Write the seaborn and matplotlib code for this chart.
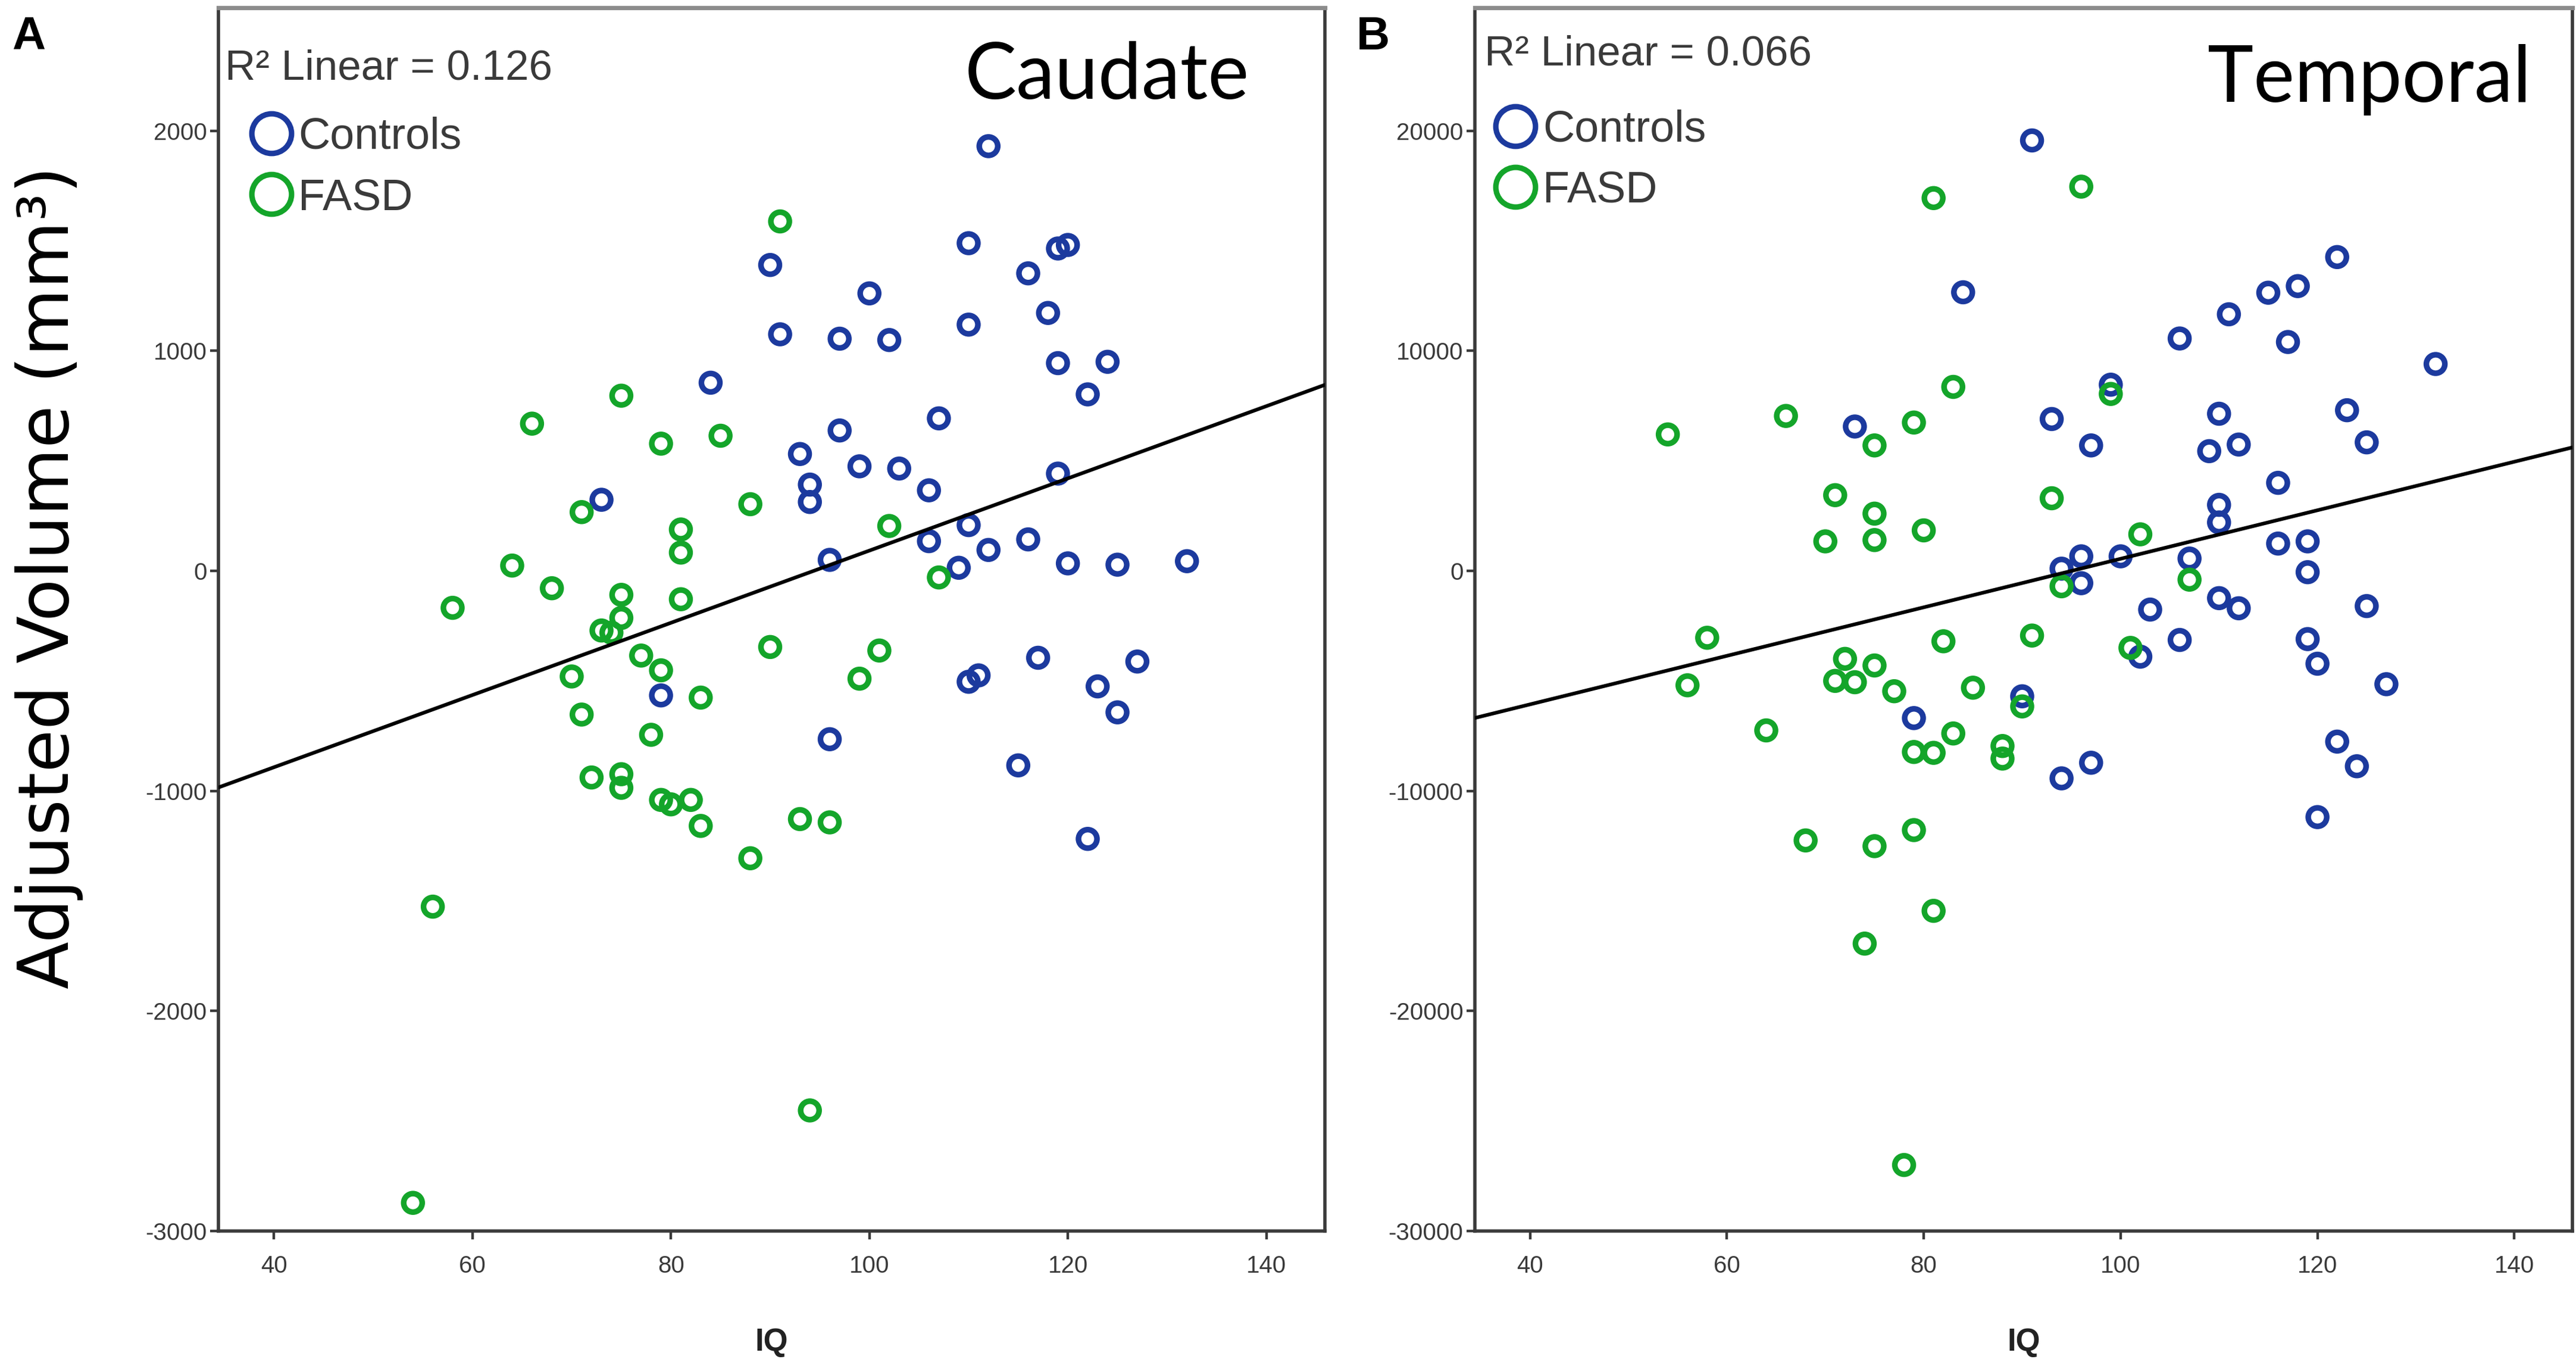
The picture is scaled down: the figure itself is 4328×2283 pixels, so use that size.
import numpy as np
import pandas as pd
import matplotlib
matplotlib.use("Agg")
import matplotlib.pyplot as plt
import seaborn as sns
from matplotlib.lines import Line2D

# ---------------- data ----------------
panel_names = ["Caudate", "Temporal"]
panel_letters = ["A", "B"]
r2_labels = ["R\u00b2 Linear = 0.126", "R\u00b2 Linear = 0.066"]
group_names = ["Controls", "FASD"]

caudate_ctrl_iq = [112, 90, 110, 116, 119, 120, 100, 118, 110, 91, 97, 102, 119, 124, 84,
                   122, 107, 97, 93, 99, 103, 94, 94, 106, 119, 73, 110, 116, 106, 112,
                   96, 109, 120, 125, 132, 117, 127, 110, 111, 123, 125, 79, 96, 115, 122]
caudate_ctrl_vol = [1930, 1390, 1489, 1352, 1465, 1481, 1261, 1172, 1119, 1075, 1055, 1049, 944, 950, 855,
                    802, 693, 638, 531, 475, 465, 392, 313, 366, 442, 323, 208, 143, 135, 95,
                    50, 14, 34, 28, 44, -395, -412, -504, -475, -525, -643, -566, -765, -884, -1218]
caudate_fasd_iq = [91, 75, 66, 85, 79, 88, 71, 81, 81, 102, 64, 107, 68, 75, 81, 58, 75, 73, 74,
                   90, 101, 77, 79, 70, 99, 83, 71, 78, 72, 75, 75, 79, 80, 82, 83, 93, 96, 88,
                   56, 94, 54]
caudate_fasd_vol = [1588, 796, 669, 614, 578, 303, 267, 188, 83, 204, 24, -30, -79, -109, -129, -168,
                    -214, -271, -281, -346, -362, -385, -452, -480, -490, -576, -653, -745, -939, -924,
                    -986, -1041, -1061, -1041, -1159, -1128, -1143, -1306, -1526, -2452, -2872]

temporal_ctrl_iq = [91, 122, 84, 118, 115, 111, 106, 117, 132, 99, 123, 110, 93, 73, 97, 109, 112,
                    125, 116, 110, 110, 116, 119, 96, 100, 107, 94, 96, 119, 103, 110, 112, 125,
                    106, 119, 120, 102, 127, 90, 79, 122, 124, 97, 94, 120]
temporal_ctrl_vol = [19560, 14260, 12660, 12940, 12640, 11660, 10560, 10400, 9400, 8460, 7300, 7140,
                     6900, 6560, 5700, 5440, 5740, 5840, 4000, 3000, 2200, 1240, 1340, 660, 660, 560,
                     100, -560, -60, -1760, -1240, -1700, -1600, -3140, -3100, -4220, -3900, -5150,
                     -5700, -6690, -7760, -8880, -8720, -9430, -11190]
temporal_fasd_iq = [96, 81, 83, 99, 66, 79, 54, 75, 71, 93, 75, 80, 70, 75, 102, 94, 107, 58, 82,
                    91, 101, 72, 75, 71, 73, 77, 85, 56, 90, 64, 83, 79, 81, 88, 88, 68, 75, 79,
                    81, 74, 78]
temporal_fasd_vol = [17460, 16940, 8360, 8040, 7040, 6740, 6200, 5700, 3440, 3300, 2600, 1840, 1340,
                     1400, 1660, -700, -400, -3040, -3200, -2940, -3500, -4000, -4300, -5000, -5060,
                     -5470, -5310, -5200, -6160, -7250, -7390, -8230, -8270, -7960, -8530, -12250,
                     -12510, -11780, -15450, -16940, -27000]

x_ticks = [40, 60, 80, 100, 120, 140]
caudate_yticks = [-3000, -2000, -1000, 0, 1000, 2000]
temporal_yticks = [-30000, -20000, -10000, 0, 10000, 20000]
x_label = "IQ"
y_label = "Adjusted Volume (mm\u00b3)"

# ---------------- style ----------------
BLUE = "#1c3a9e"
GREEN = "#14a52a"
SPINE = "#3a3a3a"
TXT = "#3a3a3a"

sns.set_theme(style="white")
plt.rcParams["font.family"] = ["Liberation Sans", "DejaVu Sans"]

fig = plt.figure(figsize=(21.64, 11.415), dpi=200)
W, H = 4328.0, 2283.0

def fx(px):
    return px / W

def fy(py):
    return 1.0 - py / H

ax_a = fig.add_axes([fx(367), fy(2068), fx(2226 - 367), (2068 - 13) / H])
ax_b = fig.add_axes([fx(2478), fy(2068), fx(4322 - 2478), (2068 - 13) / H])

panels = [
    (ax_a, caudate_ctrl_iq, caudate_ctrl_vol, caudate_fasd_iq, caudate_fasd_vol,
     caudate_yticks, (-3000, 2559)),
    (ax_b, temporal_ctrl_iq, temporal_ctrl_vol, temporal_fasd_iq, temporal_fasd_vol,
     temporal_yticks, (-30000, 25590)),
]

for ax, ciq, cvol, fiq, fvol, yt, ylim in panels:
    xlim = (34.4, 145.9)
    ax.set_xlim(*xlim)
    ax.set_ylim(*ylim)
    sns.scatterplot(x=ciq, y=cvol, ax=ax, marker="o", s=125, color=BLUE,
                    facecolors="none", edgecolor=BLUE, linewidth=3.4, legend=False, zorder=3)
    sns.scatterplot(x=fiq, y=fvol, ax=ax, marker="o", s=125, color=GREEN,
                    facecolors="none", edgecolor=GREEN, linewidth=3.4, legend=False, zorder=3)
    all_iq = np.array(ciq + fiq, dtype=float)
    all_vol = np.array(cvol + fvol, dtype=float)
    ax.set_xlim(*xlim)
    sns.regplot(x=all_iq, y=all_vol, ax=ax, scatter=False, ci=None, truncate=False,
                color="black", line_kws=dict(lw=2.2, zorder=4))
    ax.set_xlim(*xlim)
    ax.set_ylim(*ylim)
    ax.set_xlabel("")
    ax.set_ylabel("")
    ax.set_xticks(x_ticks)
    ax.set_xticklabels([str(t) for t in x_ticks])
    ax.set_yticks(yt)
    ax.set_yticklabels([str(t) for t in yt])
    ax.tick_params(axis="both", direction="out", length=5, width=1.6, colors=SPINE,
                   labelsize=14.5, labelcolor=TXT)
    ax.tick_params(axis="x", pad=9.5)
    ax.tick_params(axis="y", pad=2)
    ax.tick_params(bottom=True, left=True, top=False, right=False)
    for side in ["left", "bottom", "right"]:
        ax.spines[side].set_color(SPINE)
        ax.spines[side].set_linewidth(2.0)
        ax.spines[side].set_visible(True)
    ax.spines["top"].set_color("#8c8c8c")
    ax.spines["top"].set_linewidth(2.6)
    ax.spines["top"].set_visible(True)
    ax.set_facecolor("white")
    ax.grid(False)

# x labels
for ax in (ax_a, ax_b):
    ax.set_xlabel(x_label, fontsize=19, fontweight="bold", color="#222222", labelpad=30)

# legends
handles = [Line2D([], [], ls="", marker="o", mfc="none", mec=BLUE, ms=24, mew=3.3),
           Line2D([], [], ls="", marker="o", mfc="none", mec=GREEN, ms=24, mew=3.3)]
for ax, anchor in ((ax_a, (0.028, 0.911)), (ax_b, (0.017, 0.917))):
    leg = ax.legend(handles, group_names, loc="upper left", bbox_to_anchor=anchor,
                    frameon=False, handlelength=1.0, handletextpad=0.12, labelspacing=0.45,
                    borderpad=0, borderaxespad=0, fontsize=26.5)
    for t in leg.get_texts():
        t.set_color(TXT)

# R^2 annotations
fig.text(fx(378), fy(116), r2_labels[0], fontsize=25.5, color=TXT, ha="left", va="center")
fig.text(fx(2494), fy(91), r2_labels[1], fontsize=25.5, color=TXT, ha="left", va="center")

# panel titles
fig.text(fx(2099), fy(166), panel_names[0], fontsize=47, family=["Lato", "DejaVu Sans"],
         ha="right", va="baseline", color="black")
fig.text(fx(4253), fy(171), panel_names[1], fontsize=47, family=["Lato", "DejaVu Sans"],
         ha="right", va="baseline", color="black")

# panel letters
fig.text(fx(20), fy(26), panel_letters[0], fontsize=28, fontweight="bold", ha="left", va="top",
         color="black")
fig.text(fx(2279), fy(26), panel_letters[1], fontsize=28, fontweight="bold", ha="left", va="top",
         color="black")

# shared y label
fig.text(fx(83), fy(970), y_label, fontsize=42, rotation=90, ha="center", va="center",
         family=["DejaVu Sans"], color="black")

fig.savefig("out.png", dpi=200, facecolor="white")
